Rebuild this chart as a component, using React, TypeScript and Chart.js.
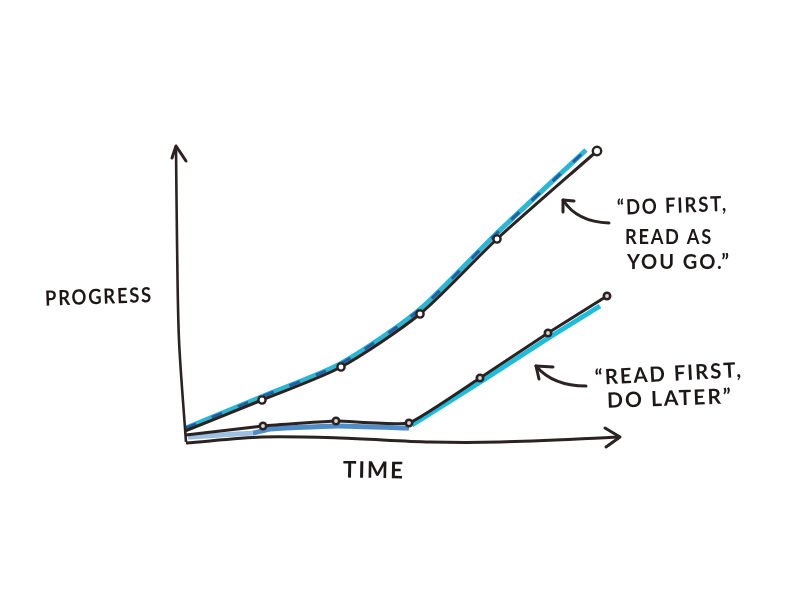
import React, { useEffect, useRef } from "react";
import { Chart, registerables } from "chart.js";

Chart.register(...registerables);

type P = { x: number; y: number };
const pts = (a: number[][]): P[] => a.map(([x, y]) => ({ x, y }));

// All values are in chart units: time to the right of the origin, progress above it.
const doFirstLine = pts([[0, 9], [77, 40], [156, 73], [235, 126], [312, 201], [412, 289]]);
const doFirstColour = pts([[1, 12], [76, 43], [155, 76], [233, 129], [309, 204], [401, 290]]);
const readFirstLine = pts([[1, 5], [78, 14], [151, 19], [224, 17], [295, 62], [363, 107], [422, 144]]);
const readFirstRise = pts([[227, 15], [297, 59], [365, 103], [415, 134]]);
const readFirstBand = pts([[3, 3], [68, 7], [85, 11], [152, 14], [224, 12]]);
const timeAxis = pts([[1, -3], [77, 3], [155, 2], [245, -2], [315, -2], [435, 3]]);
const progressAxis = pts([[1, -2], [-6, 100], [-8, 200], [-9, 294]]);

const timeArrow = pts([[420, 12], [435, 3], [421, -7]]);
const progressArrow = pts([[-13, 282], [-9, 294], [1, 279]]);
const doFirstCallout = { tail: [424, 217], bend: [392, 218], tip: [378, 240], barbs: [[378, 228], [389, 239]] };
const readFirstCallout = { tail: [401, 54], bend: [368, 54], tip: [351, 74], barbs: [[354, 61], [368, 73]] };

const xLabel = "TIME";
const yLabel = "PROGRESS";
const doFirstNote = ["\u201CDO FIRST,", "READ AS", "YOU GO.\u201D"];
const readFirstNote = ["\u201CREAD FIRST,", "DO LATER\u201D"];

const INK = "#2a2321";

const sketchPlugin = {
  id: "sketch",
  afterDatasetsDraw(chart: any) {
    const { ctx, scales } = chart;
    const X = (v: number) => scales.x.getPixelForValue(v);
    const Y = (v: number) => scales.y.getPixelForValue(v);
    ctx.save();
    ctx.strokeStyle = INK;
    ctx.fillStyle = "#1d1817";
    ctx.lineCap = "round";
    ctx.lineJoin = "round";
    ctx.lineWidth = 3;
    const poly = (list: number[][]) => {
      ctx.beginPath();
      list.forEach(([a, b], i) => (i ? ctx.lineTo(X(a), Y(b)) : ctx.moveTo(X(a), Y(b))));
      ctx.stroke();
    };
    poly(timeArrow.map((p) => [p.x, p.y]));
    poly(progressArrow.map((p) => [p.x, p.y]));
    for (const c of [doFirstCallout, readFirstCallout]) {
      ctx.beginPath();
      ctx.moveTo(X(c.tail[0]), Y(c.tail[1]));
      ctx.quadraticCurveTo(X(c.bend[0]), Y(c.bend[1]), X(c.tip[0]), Y(c.tip[1]));
      ctx.stroke();
      poly([c.barbs[0], c.tip, c.barbs[1]]);
    }
    ctx.textBaseline = "middle";
    ctx.textAlign = "left";
    const write = (s: string, a: number, b: number, size: number, w: number, deg: number) => {
      ctx.save();
      ctx.translate(a, b);
      ctx.rotate((deg * Math.PI) / 180);
      ctx.font = `bold ${size}px Lato`;
      (ctx as any).letterSpacing = "2px";
      ctx.fillText(s, 0, 0, w);
      ctx.restore();
    };
    write(yLabel, 45, 299, 21, 108, -2);
    write(xLabel, 343, 470, 23, 62, 1);
    write(doFirstNote[0], 617, 208, 21, 111, -2);
    write(doFirstNote[1], 625, 237, 21, 88, 0);
    write(doFirstNote[2], 627, 262, 21, 104, 0);
    write(readFirstNote[0], 595, 378, 21, 148, -3);
    write(readFirstNote[1], 607, 401, 21, 126, -2);
    ctx.restore();
  },
};

export default function App() {
  const ref = useRef<HTMLCanvasElement | null>(null);
  useEffect(() => {
    document.body.style.margin = "0";
    document.body.style.background = "#fff";
    const ring = (ctx: any) => (ctx.dataIndex === 0 ? 0 : 3.2);
    const chart = new Chart(ref.current as HTMLCanvasElement, {
      type: "line",
      data: {
        datasets: [
          {
            label: "Do first, read as you go",
            data: doFirstLine,
            borderColor: INK,
            borderWidth: 3,
            tension: 0.25,
            pointRadius: (ctx: any) => (ctx.dataIndex === 0 ? 0 : ctx.dataIndex === 5 ? 4.2 : 3.6),
            pointBackgroundColor: "#ffffff",
            pointBorderColor: INK,
            pointBorderWidth: 2.4,
            clip: false,
          },
          {
            label: "Read first, do later",
            data: readFirstLine,
            borderColor: INK,
            borderWidth: 3,
            tension: 0.12,
            pointRadius: ring,
            pointBackgroundColor: "#d9d9d9",
            pointBorderColor: INK,
            pointBorderWidth: 2.6,
            clip: false,
          },
          { label: "Time", data: timeAxis, borderColor: INK, borderWidth: 3, tension: 0.3, pointRadius: 0, clip: false },
          { label: "Progress", data: progressAxis, borderColor: INK, borderWidth: 2.6, tension: 0.3, pointRadius: 0, clip: false },
          {
            label: "Do first marker",
            data: doFirstColour,
            borderColor: "#1f5fa6",
            borderWidth: 3,
            borderDash: [11, 17],
            tension: 0.25,
            pointRadius: 0,
            clip: false,
          },
          {
            label: "Do first highlight",
            data: doFirstColour,
            borderColor: "#2fb5d2",
            borderWidth: 5,
            tension: 0.25,
            pointRadius: 0,
            clip: false,
          },
          {
            label: "Read first highlight",
            data: readFirstRise,
            borderColor: "#1fbcdc",
            borderWidth: 5,
            pointRadius: 0,
            clip: false,
          },
          {
            label: "Read first band",
            data: readFirstBand,
            borderColor: "#4f8cc8",
            borderWidth: 5,
            tension: 0.1,
            segment: { borderColor: (c: any) => (c.p0DataIndex === 0 ? "#9cc0e2" : "#4f8cc8") },
            pointRadius: 0,
            clip: false,
          },
        ],
      },
      options: {
        responsive: false,
        animation: false,
        layout: { padding: { left: 185, right: 180, top: 145, bottom: 160 } },
        plugins: { legend: { display: false }, tooltip: { enabled: false } },
        scales: {
          x: { type: "linear", min: 0, max: 435, display: false },
          y: { type: "linear", min: 0, max: 295, display: false },
        },
      },
      plugins: [sketchPlugin],
    } as any);
    return () => chart.destroy();
  }, []);
  return <canvas ref={ref} width={800} height={600} style={{ display: "block" }} />;
}
